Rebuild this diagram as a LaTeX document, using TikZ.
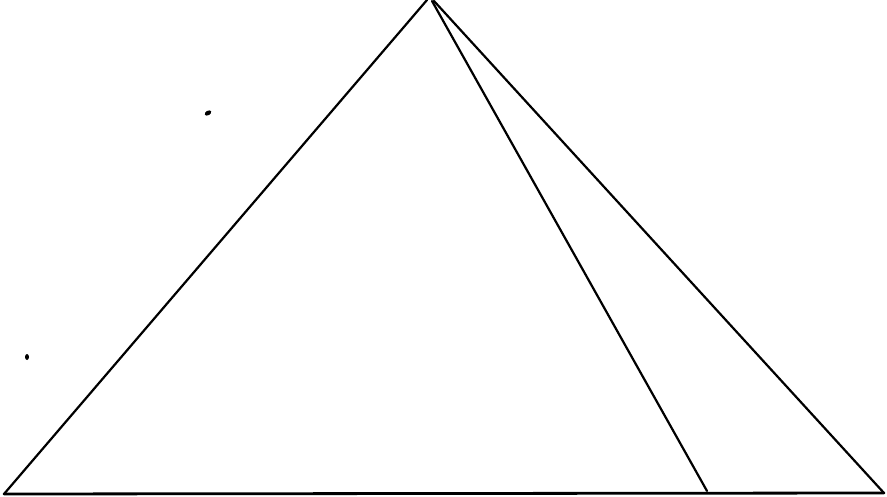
\documentclass[tikz,border=0pt]{standalone}
\begin{document}
\begin{tikzpicture}[x=1pt,y=-1pt,
  edge/.style={draw=black,line width=2.2pt,line cap=round,line join=round},
  baseedge/.style={draw=black,line width=2.8pt,line cap=round},
  speck/.style={fill=black}]
\useasboundingbox (0,0) rectangle (887,497);
\coordinate (apexL) at (427,0);
\coordinate (apexR) at (434,1);
\coordinate (apexM) at (432,1);
\coordinate (bl) at (4,494);
\coordinate (br) at (884,493);
\coordinate (bm) at (707,491);
\draw[edge] (bl) -- (apexL);
\draw[edge] (apexR) -- (br);
\draw[edge] (apexM) -- (bm);
\draw[baseedge] (bl) -- (br);
\fill[speck,rotate around={30:(208,113)}] (208,113) ellipse (3.5pt and 2.2pt);
\fill[speck] (27,357) ellipse (2pt and 3pt);
\end{tikzpicture}
\end{document}
